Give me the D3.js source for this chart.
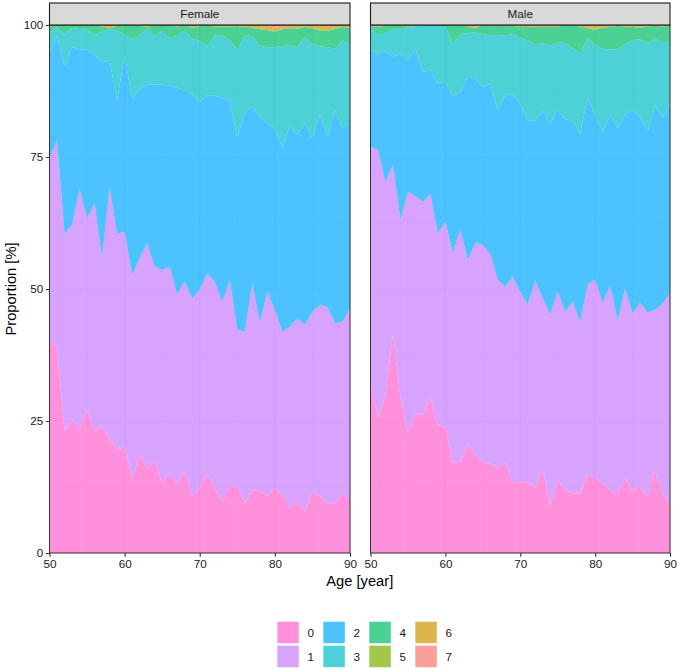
<!DOCTYPE html>
<html><head><meta charset="utf-8">
<script src="https://cdn.jsdelivr.net/npm/d3@7"></script>
<style>body{margin:0;background:#fff}svg{display:block}text{font-family:"Liberation Sans",Arial,sans-serif}</style>
</head><body><svg id="c" width="677" height="668"></svg>
<script>
const ages=[50,51,52,53,54,55,56,57,58,59,60,61,62,63,64,65,66,67,68,69,70,71,72,73,74,75,76,77,78,79,80,81,82,83,84,85,86,87,88,89,90];
const categories=["0","1","2","3","4","5","6","7"];
const colors=["#FF61CC","#C77CFF","#00A9FF","#00BFC4","#00BE67","#7CAE00","#CD9600","#F8766D"];
const facets=["Female","Male"];
const xTicks=[50,60,70,80,90];
const xMinor=[55,65,75,85];
const yTicks=[0,25,50,75,100];
const yMinor=[12.5,37.5,62.5,87.5];

const female0=[39.8,39.0,23.0,25.2,23.6,27.1,23.0,23.9,21.7,19.5,20.1,14.0,18.6,16.0,17.5,13.2,15.2,13.1,15.7,10.7,12.3,15.0,12.3,9.8,12.7,12.6,9.4,11.8,11.9,10.8,12.3,11.0,8.5,9.7,7.8,11.4,10.8,9.4,9.4,11.3,10.0];
const female1=[34.9,39.2,37.5,36.9,45.3,36.3,43.2,31.9,47.6,40.9,40.8,38.7,37.2,42.7,36.7,40.4,39.0,35.8,35.7,37.5,37.6,38.0,39.1,37.8,39.0,29.7,32.6,39.3,31.6,38.7,33.7,30.8,34.4,34.7,35.4,34.3,36.2,37.2,34.1,32.5,36.2];
const female2=[19.9,19.8,31.7,33.7,26.5,32.0,28.1,37.1,24.0,25.3,33.4,33.3,32.1,30.0,34.6,35.1,34.4,39.2,36.2,38.8,35.5,33.7,35.2,38.6,34.0,36.2,41.5,33.4,39.1,31.8,34.5,34.9,38.1,34.8,38.3,32.8,36.2,32.2,40.3,36.6,35.1];
const female3=[3.9,1.6,6.0,3.7,3.8,3.8,3.7,5.9,5.9,13.3,3.9,11.3,10.1,10.6,9.2,10.1,8.8,9.9,11.4,10.4,11.6,9.3,11.4,11.9,11.4,16.7,14.5,13.4,13.4,14.5,15.3,19.3,15.2,16.6,16.2,17.8,12.8,17.0,11.7,16.7,15.0];
const female4=[1.2,0.4,1.8,0.4,0.8,0.8,2.0,0.9,0.2,0.8,1.8,2.7,1.8,0.3,2.0,1.2,2.6,1.7,1.0,2.1,2.8,4.0,1.6,1.6,2.6,4.4,1.7,1.6,3.2,3.2,2.9,3.2,3.2,3.5,1.9,3.1,2.9,3.1,3.7,2.5,3.2];
const female5=[0,0,0,0,0,0,0,0,0,0,0,0,0,0,0,0,0,0,0,0,0,0,0,0,0,0,0,0,0.2,0,0.2,0,0,0.2,0,0,0.2,0,0.3,0,0];
const female6=[0.3,0,0,0.1,0,0,0,0.3,0.6,0.2,0,0,0.2,0.4,0,0,0,0.3,0,0.5,0.2,0,0.4,0.3,0.3,0.4,0.3,0.5,0.6,0.8,0.6,0.5,0.6,0.5,0.4,0.6,0.9,1.0,0.5,0.4,0.5];
const female7=[0,0,0,0,0,0,0,0,0,0,0,0,0,0,0,0,0,0,0,0,0,0,0,0,0,0,0,0,0,0.2,0.5,0.3,0,0,0,0,0,0.1,0,0,0];

const male0=[32.4,25.5,29.9,41.6,29.3,22.7,26.3,26.2,29.5,24.2,23.9,17.0,17.3,20.6,18.6,17.1,16.9,16.0,17.0,13.4,13.4,13.4,12.4,15.8,8.8,13.8,11.9,11.3,11.2,14.8,14.1,13.2,11.9,11.0,14.3,11.6,12.7,10.7,15.6,11.3,9.1];
const male1=[44.6,50.8,40.4,31.9,33.8,45.7,41.2,40.3,38.5,36.3,38.8,39.8,44.0,34.8,40.2,41.2,39.7,35.7,33.4,38.9,36.1,33.6,39.2,32.4,36.3,35.7,33.8,36.3,32.6,36.0,37.7,34.2,38.7,33.0,35.8,33.7,34.7,34.8,30.4,35.9,40.1];
const male2=[18.2,18.3,24.9,20.4,31.5,24.9,28.0,24.6,23.4,28.4,26.6,29.6,26.0,34.8,31.0,30.0,32.3,32.1,36.4,34.6,35.5,34.9,30.3,35.6,36.2,34.5,36.4,34.3,35.6,35.4,31.0,32.3,32.4,36.5,32.9,38.5,35.2,34.2,38.8,35.2,35.9];
const male3=[4.4,3.4,3.3,5.3,4.6,6.1,4.3,8.7,8.4,10.9,10.5,9.9,11.0,8.3,8.8,10.0,9.1,14.3,11.2,11.4,12.5,15.2,14.3,12.8,14.7,12.7,14.5,13.7,15.2,11.3,13.4,15.7,12.4,14.9,13.3,13.3,14.7,16.8,12.7,14.1,12.0];
const male4=[0.1,1.6,1.4,0.8,0.8,0.3,0.0,0.2,0.2,0.2,0.2,3.7,1.7,1.2,0.8,1.7,1.8,1.9,2.0,1.5,2.1,2.5,3.5,3.0,3.6,3.0,3.4,4.4,5.1,1.9,2.9,4.1,4.2,4.4,3.4,2.5,2.2,3.2,2.3,3.2,2.7];
const male5=[0,0,0,0,0,0,0,0,0,0,0,0,0,0,0,0,0,0,0,0,0,0,0,0,0,0,0,0,0,0,0.2,0,0,0,0,0,0.2,0,0,0,0];
const male6=[0,0,0.1,0,0,0,0.2,0,0,0,0,0,0,0.3,0.3,0,0.2,0,0,0,0.4,0.4,0.3,0.4,0.4,0.3,0,0,0.3,0.6,0.7,0.5,0.4,0,0.3,0.4,0.3,0.3,0.2,0.3,0.2];
const male7=[0.3,0.4,0,0,0,0.3,0,0,0,0,0,0,0,0,0.3,0,0,0,0,0.2,0,0,0,0,0,0,0,0,0,0,0,0,0,0.2,0,0,0,0,0,0,0];

const series={
  Female:[female0,female1,female2,female3,female4,female5,female6,female7],
  Male:[male0,male1,male2,male3,male4,male5,male6,male7]
};

const svg=d3.select("#c");
const textCol="#1a1a1a";
const panelX={Female:[49.5,350],Male:[370.5,670]};
const pTop=25,pBottom=553;
const y=d3.scaleLinear().domain([0,100]).range([pBottom,pTop]);
const stack=d3.stack().keys(categories);

facets.forEach((f,fi)=>{
  const x=d3.scaleLinear().domain([50,90]).range(panelX[f]);
  const g=svg.append("g");
  g.append("rect").attr("x",panelX[f][0]).attr("y",pTop).attr("width",panelX[f][1]-panelX[f][0]).attr("height",pBottom-pTop).attr("fill","#fff");
  xMinor.forEach(v=>g.append("line").attr("x1",x(v)).attr("x2",x(v)).attr("y1",pTop).attr("y2",pBottom).attr("stroke","#EBEBEB").attr("stroke-width",0.55));
  yMinor.forEach(v=>g.append("line").attr("y1",y(v)).attr("y2",y(v)).attr("x1",panelX[f][0]).attr("x2",panelX[f][1]).attr("stroke","#EBEBEB").attr("stroke-width",0.55));
  xTicks.forEach(v=>g.append("line").attr("x1",x(v)).attr("x2",x(v)).attr("y1",pTop).attr("y2",pBottom).attr("stroke","#EBEBEB").attr("stroke-width",1.1));
  yTicks.forEach(v=>g.append("line").attr("y1",y(v)).attr("y2",y(v)).attr("x1",panelX[f][0]).attr("x2",panelX[f][1]).attr("stroke","#EBEBEB").attr("stroke-width",1.1));
  const rows=ages.map((a,i)=>{const r={age:a};categories.forEach((c,ci)=>r[c]=series[f][ci][i]);return r;});
  const stacked=stack(rows);
  const area=d3.area().x(d=>x(d.data.age)).y0(d=>y(Math.min(100,d[0]))).y1(d=>y(Math.min(100,d[1])));
  g.selectAll("path.a").data(stacked).enter().append("path")
    .attr("d",area).attr("fill",(d,i)=>colors[i]).attr("fill-opacity",0.7);
  g.append("rect").attr("x",panelX[f][0]).attr("y",pTop).attr("width",panelX[f][1]-panelX[f][0]).attr("height",pBottom-pTop)
    .attr("fill","none").attr("stroke","#333").attr("stroke-width",1);
  g.append("rect").attr("x",panelX[f][0]).attr("y",3).attr("width",panelX[f][1]-panelX[f][0]).attr("height",pTop-3)
    .attr("fill","#D9D9D9").attr("stroke","#1a1a1a").attr("stroke-width",1.1);
  g.append("text").attr("x",(panelX[f][0]+panelX[f][1])/2).attr("y",14).attr("dy","0.35em").attr("text-anchor","middle")
    .attr("font-size",11.7).attr("fill",textCol).text(f);
  const xa=g.append("g").attr("transform",`translate(0,${pBottom})`)
    .call(d3.axisBottom(x).tickValues(xTicks).tickSize(3.7).tickPadding(2.5).tickFormat(d3.format("d")));
  xa.select(".domain").remove();
  xa.selectAll("line").attr("stroke","#333").attr("stroke-width",1.1);
  xa.selectAll("text").attr("font-size",11.7).attr("fill",textCol).attr("font-family","Liberation Sans, Arial, sans-serif");
  if(fi===0){
    const ya=g.append("g").attr("transform",`translate(${panelX[f][0]},0)`)
      .call(d3.axisLeft(y).tickValues(yTicks).tickSize(3.7).tickPadding(2.5));
    ya.select(".domain").remove();
    ya.selectAll("line").attr("stroke","#333").attr("stroke-width",1.1);
    ya.selectAll("text").attr("font-size",11.7).attr("fill",textCol).attr("font-family","Liberation Sans, Arial, sans-serif");
  }
});

svg.append("text").attr("x",359.75).attr("y",581).attr("dy","0.35em").attr("text-anchor","middle")
  .attr("font-size",14.7).attr("fill","#000").text("Age [year]");
svg.append("text").attr("transform","translate(11,289) rotate(-90)").attr("dy","0.35em").attr("text-anchor","middle")
  .attr("font-size",14.7).attr("fill","#000").text("Proportion [%]");

const lg=svg.append("g");
categories.forEach((c,i)=>{
  const col=Math.floor(i/2), row=i%2;
  const kx=277.3+col*46, ky=621.7+row*24;
  lg.append("rect").attr("x",kx).attr("y",ky).attr("width",21.5).attr("height",21.5)
    .attr("fill",colors[i]).attr("fill-opacity",0.7);
  lg.append("text").attr("x",kx+30.2).attr("y",ky+10.75).attr("dy","0.35em")
    .attr("font-size",11.7).attr("fill",textCol).text(c);
});
</script></body></html>
